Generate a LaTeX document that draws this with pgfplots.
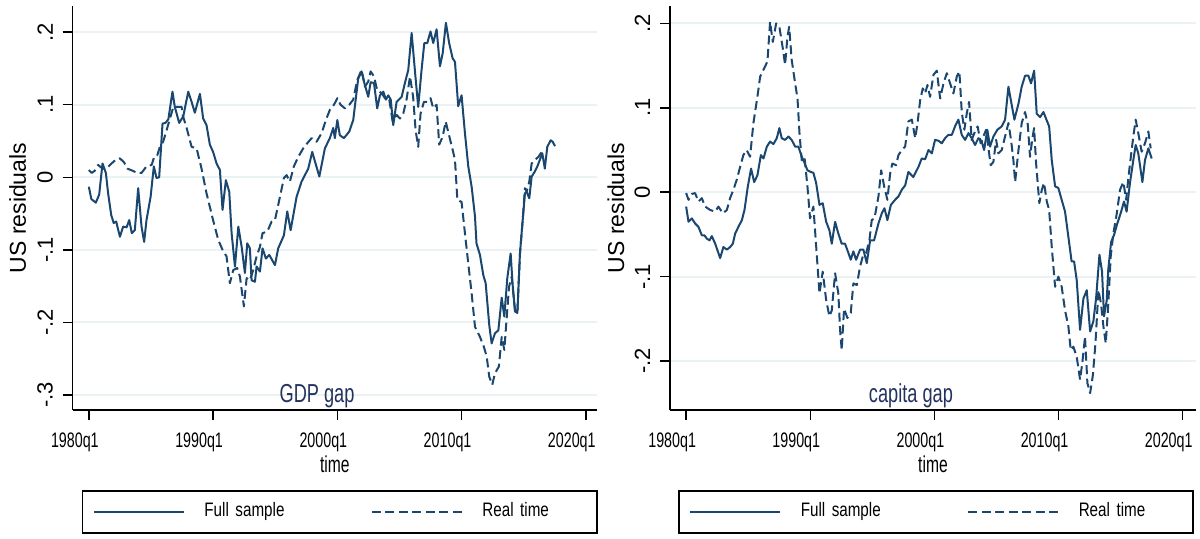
\documentclass[border=0pt]{standalone}
\usepackage{pgfplots}
\pgfplotsset{compat=1.18}
\usepackage{fontspec}
\setmainfont{Liberation Sans}
\newfontfamily\cond{Liberation Sans}[FakeStretch=0.78]
\newfontfamily\condt{Liberation Sans}[FakeStretch=0.68]
\newfontfamily\condh{Liberation Sans}[FakeStretch=0.70]
\definecolor{stnavy}{RGB}{26,71,111}
\definecolor{stgrid}{RGB}{234,242,243}
\definecolor{sttitle}{RGB}{35,50,95}

\pgfplotsset{
  panel/.style={
    scale only axis, width=262.15pt, height=202pt,
    axis x line*=bottom, axis y line*=left,
    axis line style={black, line width=0.75pt, -},
    xmin=1978.7, xmax=2020.9,
    xtick={1980,1990,2000,2010,2020},
    xticklabels={1980q1,1990q1,2000q1,2010q1,2020q1},
    tick align=outside, major tick length=5pt,
    tick style={black, line width=0.75pt},
    ymajorgrids, grid style={stgrid, line width=1pt},
    x tick label style={font=\condt\fontsize{10.5}{11}\selectfont, anchor=north, xshift=-7pt, yshift=-3pt},
    y tick label style={rotate=90, anchor=south, inner sep=0pt, yshift=4.7pt, font=\fontsize{11}{12}\selectfont},
    xlabel={time},
    xlabel style={font=\condt\fontsize{11.5}{12}\selectfont, yshift=5pt},
    ylabel={US residuals},
    ylabel style={at={(axis description cs:-0.105,0.5)}, anchor=center, font=\fontsize{11.5}{12}\selectfont},
    legend columns=2,
    legend image code/.code={\draw[#1] (0pt,0pt) -- (45pt,0pt);},
    legend style={at={(axis description cs:0,0)}, anchor=north west,
      xshift=4.5pt, yshift=-40pt, draw=black, line width=0.75pt,
      inner xsep=5.15pt, inner ysep=6pt,
      font=\cond\fontsize{9.75}{10}\selectfont,
      nodes={text width=52pt, inner sep=0pt, align=left, text height=7pt, text depth=2pt},
      /tikz/every odd column/.append style={column sep=9.85pt},
      /tikz/every even column/.append style={column sep=31.15pt}},
    full/.style={stnavy, line width=1pt, line join=round},
    real/.style={stnavy, line width=1pt, line join=round, dash pattern=on 4.5pt off 2.25pt},
  }
}

\begin{document}
\begin{tikzpicture}
\path (0,0) rectangle (600pt,269pt);

% ---------------- Left panel: GDP gap ----------------
\begin{axis}[panel, at={(36.35pt,64pt)}, anchor=south west,
  ymin=-0.3208, ymax=0.2361,
  ytick={-0.3,-0.2,-0.1,0,0.1,0.2},
  yticklabels={-.3,-.2,-.1,0,.1,.2}]
\addplot[full] coordinates {
(1980.0,-0.013)(1980.2,-0.030)(1980.56,-0.035)(1980.83,-0.024)(1981.1,0.019)
(1981.37,0.006)(1981.55,-0.022)(1981.8,-0.052)(1982.0,-0.063)(1982.2,-0.061)
(1982.5,-0.082)(1982.76,-0.068)(1983.04,-0.069)(1983.25,-0.059)(1983.46,-0.077)
(1983.7,-0.073)(1983.97,-0.015)(1984.24,-0.068)(1984.45,-0.089)(1984.64,-0.059)
(1984.97,-0.027)(1985.23,0.015)(1985.45,-0.001)(1985.66,0.0)(1985.93,0.074)
(1986.17,0.075)(1986.4,0.080)(1986.73,0.118)(1986.92,0.097)(1987.27,0.075)
(1987.6,0.084)(1988.0,0.118)(1988.27,0.104)(1988.53,0.089)(1988.94,0.115)
(1989.2,0.081)(1989.47,0.072)(1989.74,0.045)(1990.0,0.035)(1990.28,0.019)
(1990.55,0.010)(1990.76,-0.045)(1991.03,-0.004)(1991.3,-0.020)(1991.49,-0.077)
(1991.76,-0.123)(1992.03,-0.068)(1992.3,-0.096)(1992.56,-0.132)(1992.75,-0.091)
(1992.96,-0.098)(1993.1,-0.142)(1993.37,-0.144)(1993.5,-0.123)(1993.77,-0.130)
(1993.98,-0.098)(1994.25,-0.112)(1994.52,-0.107)(1994.98,-0.121)(1995.24,-0.098)
(1995.7,-0.080)(1995.97,-0.047)(1996.24,-0.073)(1996.72,-0.027)(1997.12,-0.006)
(1997.66,0.012)(1997.98,0.035)(1998.55,0.001)(1999.0,0.040)(1999.4,0.054)
(1999.67,0.068)(1999.8,0.054)(2000.0,0.079)(2000.2,0.058)(2000.53,0.054)
(2000.96,0.063)(2001.28,0.079)(2001.68,0.136)(2001.95,0.146)(2002.22,0.127)
(2002.49,0.111)(2002.68,0.131)(2002.95,0.130)(2003.21,0.095)(2003.43,0.113)
(2003.7,0.118)(2003.91,0.107)(2004.1,0.113)(2004.3,0.107)(2004.5,0.072)
(2004.77,0.104)(2005.18,0.111)(2005.44,0.130)(2005.71,0.148)(2005.98,0.199)
(2006.25,0.146)(2006.51,0.097)(2006.78,0.148)(2007.0,0.185)(2007.24,0.185)
(2007.5,0.201)(2007.72,0.185)(2007.99,0.204)(2008.26,0.153)(2008.48,0.171)
(2008.74,0.213)(2009.0,0.185)(2009.28,0.164)(2009.47,0.159)(2009.73,0.098)
(2010.0,0.113)(2010.27,0.061)(2010.54,0.015)(2010.81,-0.013)(2011.08,-0.054)
(2011.2,-0.091)(2011.48,-0.107)(2011.75,-0.135)(2011.94,-0.146)(2012.23,-0.204)
(2012.42,-0.229)(2012.69,-0.215)(2012.96,-0.211)(2013.23,-0.166)(2013.44,-0.192)
(2013.68,-0.139)(2013.95,-0.105)(2014.11,-0.148)(2014.3,-0.185)(2014.49,-0.187)
(2014.7,-0.105)(2014.92,-0.059)(2015.1,-0.022)(2015.24,-0.020)(2015.45,-0.029)
(2015.64,0.001)(2015.9,0.008)(2016.1,0.015)(2016.3,0.024)(2016.5,0.033)
(2016.7,0.012)(2016.9,0.042)(2017.17,0.051)(2017.33,0.049)(2017.52,0.043)
};
\addlegendentry{Full sample}
\addplot[real] coordinates {
(1980.0,0.010)(1980.22,0.006)(1980.48,0.009)(1980.75,0.017)(1981.1,0.012)
(1981.42,0.012)(1981.82,0.019)(1982.23,0.025)(1982.5,0.026)(1982.82,0.021)
(1983.1,0.012)(1983.52,0.009)(1983.9,0.006)(1984.24,0.006)(1984.64,0.015)
(1985.05,0.017)(1985.26,0.028)(1985.5,0.030)(1985.72,0.042)(1985.98,0.049)
(1986.26,0.065)(1986.58,0.084)(1986.8,0.097)(1987.2,0.097)(1987.47,0.097)
(1987.55,0.086)(1987.87,0.068)(1988.27,0.042)(1988.67,0.040)(1989.07,0.012)
(1989.47,-0.022)(1990.0,-0.059)(1990.41,-0.086)(1990.76,-0.100)(1991.08,-0.109)
(1991.35,-0.146)(1991.62,-0.128)(1991.94,-0.125)(1992.16,-0.137)(1992.48,-0.178)
(1992.7,-0.139)(1992.96,-0.142)(1993.23,-0.128)(1993.5,-0.109)(1993.77,-0.096)
(1993.98,-0.077)(1994.36,-0.075)(1994.71,-0.061)(1994.98,-0.059)(1995.38,-0.027)
(1995.7,-0.001)(1995.92,0.003)(1996.18,-0.006)(1996.5,0.015)(1996.85,0.028)
(1997.26,0.040)(1997.58,0.047)(1997.93,0.054)(1998.33,0.049)(1998.74,0.061)
(1999.08,0.079)(1999.4,0.093)(1999.73,0.100)(2000.0,0.109)(2000.26,0.100)
(2000.61,0.095)(2000.96,0.100)(2001.28,0.107)(2001.6,0.134)(2001.95,0.148)
(2002.22,0.125)(2002.49,0.132)(2002.68,0.146)(2002.95,0.139)(2003.21,0.120)
(2003.56,0.116)(2003.91,0.107)(2004.18,0.107)(2004.45,0.077)(2004.77,0.086)
(2005.04,0.081)(2005.31,0.088)(2005.57,0.107)(2005.85,0.139)(2006.1,0.111)
(2006.3,0.065)(2006.51,0.042)(2006.7,0.088)(2006.97,0.104)(2007.24,0.104)
(2007.5,0.109)(2007.72,0.095)(2007.99,0.100)(2008.2,0.045)(2008.48,0.056)
(2008.72,0.077)(2008.99,0.058)(2009.28,0.038)(2009.47,0.024)(2009.66,-0.031)
(2010.0,-0.034)(2010.27,-0.077)(2010.54,-0.119)(2010.81,-0.160)(2011.08,-0.206)
(2011.48,-0.220)(2011.8,-0.234)(2012.02,-0.247)(2012.23,-0.275)(2012.47,-0.286)
(2012.69,-0.270)(2013.0,-0.261)(2013.23,-0.220)(2013.44,-0.238)(2013.63,-0.194)
(2013.82,-0.151)(2014.03,-0.137)(2014.3,-0.183)(2014.49,-0.187)(2014.7,-0.105)
(2014.92,-0.059)(2015.1,-0.015)(2015.24,-0.020)(2015.45,-0.006)(2015.64,0.019)
(2015.9,0.024)(2016.18,0.028)(2016.45,0.035)
};
\addlegendentry{Real time}
\node[font=\condh\fontsize{13}{14}\selectfont, text=sttitle, anchor=base]
  at (axis description cs:0.466,0.018) {GDP gap};
\end{axis}

% ---------------- Right panel: capita gap ----------------
\begin{axis}[panel, at={(335pt,64pt)}, anchor=south west, width=263pt,
  xmax=2021.07,
  ymin=-0.258, ymax=0.2206,
  ytick={-0.2,-0.1,0,0.1,0.2},
  yticklabels={-.2,-.1,0,.1,.2},
  ylabel style={at={(axis description cs:-0.1027,0.5)}},
  legend style={xshift=-0.5pt}]
\addplot[full] coordinates {
(1980.0,-0.017)(1980.19,-0.035)(1980.46,-0.031)(1980.72,-0.037)(1980.99,-0.041)
(1981.26,-0.051)(1981.47,-0.051)(1981.67,-0.055)(1981.88,-0.057)(1982.07,-0.052)
(1982.34,-0.061)(1982.74,-0.078)(1983.0,-0.065)(1983.28,-0.068)(1983.54,-0.065)
(1983.76,-0.061)(1983.95,-0.049)(1984.21,-0.041)(1984.49,-0.033)(1984.7,-0.021)
(1984.97,0.007)(1985.23,0.028)(1985.48,0.012)(1985.74,0.020)(1986.02,0.044)
(1986.23,0.040)(1986.5,0.054)(1986.76,0.060)(1987.03,0.057)(1987.3,0.064)
(1987.51,0.076)(1987.7,0.064)(1987.97,0.062)(1988.24,0.066)(1988.5,0.062)
(1988.78,0.054)(1989.04,0.054)(1989.31,0.042)(1989.5,0.036)(1989.77,0.026)
(1990.04,0.024)(1990.25,0.023)(1990.47,0.011)(1990.74,-0.015)(1991.0,-0.013)
(1991.28,-0.035)(1991.54,-0.045)(1991.73,-0.061)(1992.0,-0.035)(1992.26,-0.049)
(1992.53,-0.061)(1992.8,-0.061)(1993.07,-0.072)(1993.26,-0.080)(1993.47,-0.070)
(1993.69,-0.080)(1994.01,-0.068)(1994.28,-0.068)(1994.55,-0.084)(1994.82,-0.057)
(1995.14,-0.057)(1995.49,-0.037)(1995.76,-0.025)(1995.97,-0.019)(1996.21,-0.033)
(1996.49,-0.015)(1996.83,-0.009)(1997.1,-0.005)(1997.37,0.003)(1997.64,0.008)
(1997.9,0.024)(1998.3,0.018)(1998.71,0.030)(1998.98,0.040)(1999.25,0.039)
(1999.52,0.050)(1999.79,0.046)(2000.05,0.062)(2000.32,0.061)(2000.59,0.058)
(2000.86,0.064)(2001.13,0.068)(2001.4,0.068)(2001.66,0.078)(2001.93,0.086)
(2002.2,0.068)(2002.47,0.062)(2002.74,0.070)(2003.0,0.064)(2003.27,0.056)
(2003.54,0.064)(2003.81,0.060)(2004.0,0.050)(2004.26,0.074)(2004.48,0.054)
(2004.75,0.066)(2005.07,0.074)(2005.42,0.078)(2005.69,0.086)(2005.96,0.125)
(2006.23,0.103)(2006.44,0.086)(2006.77,0.105)(2007.03,0.125)(2007.3,0.138)
(2007.57,0.138)(2007.78,0.129)(2008.03,0.144)(2008.24,0.093)(2008.51,0.089)
(2008.78,0.095)(2009.24,0.078)(2009.45,0.038)(2009.72,0.007)(2009.98,0.005)
(2010.25,-0.009)(2010.52,-0.023)(2010.79,-0.053)(2011.05,-0.082)(2011.25,-0.082)
(2011.46,-0.104)(2011.73,-0.163)(2012.0,-0.126)(2012.27,-0.116)(2012.54,-0.165)
(2012.8,-0.153)(2013.02,-0.126)(2013.29,-0.074)(2013.5,-0.094)(2013.66,-0.147)
(2013.88,-0.128)(2014.0,-0.092)(2014.23,-0.059)(2014.46,-0.051)(2014.73,-0.037)
(2015.0,-0.025)(2015.27,-0.011)(2015.48,-0.023)(2015.75,0.011)(2016.02,0.038)
(2016.21,0.056)(2016.42,0.046)(2016.75,0.012)(2016.96,0.038)(2017.23,0.052)
(2017.5,0.040)
};
\addlegendentry{Full sample}
\addplot[real] coordinates {
(1980.0,-0.001)(1980.19,-0.009)(1980.46,-0.002)(1980.72,-0.001)(1980.99,-0.011)
(1981.26,-0.007)(1981.53,-0.017)(1981.93,-0.021)(1982.34,-0.023)(1982.6,-0.017)
(1982.96,-0.025)(1983.28,-0.021)(1983.54,-0.007)(1983.81,0.003)(1984.08,0.015)
(1984.35,0.030)(1984.61,0.044)(1984.88,0.050)(1985.15,0.042)(1985.42,0.082)
(1985.74,0.113)(1985.96,0.137)(1986.36,0.149)(1986.55,0.155)(1986.76,0.202)
(1986.98,0.178)(1987.25,0.200)(1987.51,0.196)(1987.79,0.170)(1987.97,0.151)
(1988.16,0.184)(1988.3,0.196)(1988.5,0.157)(1988.78,0.129)(1988.97,0.111)
(1989.13,0.070)(1989.31,0.038)(1989.53,0.042)(1989.77,0.007)(1989.98,-0.031)
(1990.25,-0.017)(1990.53,-0.076)(1990.74,-0.120)(1991.0,-0.094)(1991.28,-0.128)
(1991.54,-0.147)(1991.73,-0.140)(1992.0,-0.096)(1992.26,-0.120)(1992.4,-0.163)
(1992.53,-0.187)(1992.72,-0.138)(1992.99,-0.149)(1993.26,-0.143)(1993.47,-0.108)
(1993.75,-0.110)(1994.01,-0.088)(1994.23,-0.076)(1994.5,-0.072)(1994.76,-0.057)
(1994.95,-0.033)(1995.17,-0.031)(1995.49,-0.005)(1995.71,0.026)(1995.95,0.007)
(1996.21,-0.009)(1996.43,0.022)(1996.61,0.034)(1996.91,0.032)(1997.1,0.044)
(1997.37,0.050)(1997.64,0.054)(1997.9,0.084)(1998.18,0.086)(1998.45,0.064)
(1998.64,0.082)(1998.85,0.109)(1999.06,0.123)(1999.25,0.117)(1999.44,0.127)
(1999.65,0.113)(1999.92,0.139)(2000.19,0.144)(2000.46,0.111)(2000.73,0.129)
(2001.0,0.141)(2001.26,0.129)(2001.53,0.117)(2001.8,0.137)(2002.01,0.143)
(2002.2,0.095)(2002.41,0.074)(2002.6,0.093)(2002.79,0.107)(2003.0,0.062)
(2003.27,0.072)(2003.48,0.078)(2003.72,0.058)(2003.94,0.066)(2004.16,0.074)
(2004.37,0.050)(2004.53,0.032)(2004.75,0.036)(2004.97,0.062)(2005.15,0.046)
(2005.42,0.050)(2005.69,0.066)(2005.96,0.082)(2006.17,0.062)(2006.36,0.038)
(2006.5,0.012)(2006.77,0.050)(2007.03,0.082)(2007.3,0.095)(2007.52,0.080)
(2007.7,0.042)(2007.89,0.064)(2008.03,0.076)(2008.19,0.034)(2008.45,-0.013)
(2008.65,0.003)(2008.83,0.011)(2009.05,-0.011)(2009.24,-0.021)(2009.45,-0.065)
(2009.72,-0.112)(2009.98,-0.100)(2010.25,-0.112)(2010.52,-0.140)(2010.79,-0.159)
(2010.98,-0.187)(2011.19,-0.183)(2011.46,-0.195)(2011.73,-0.222)(2011.92,-0.201)
(2012.13,-0.171)(2012.32,-0.226)(2012.54,-0.238)(2012.76,-0.217)(2012.97,-0.179)
(2013.21,-0.116)(2013.42,-0.132)(2013.61,-0.159)(2013.8,-0.179)(2013.99,-0.136)
(2014.2,-0.076)(2014.41,-0.049)(2014.69,-0.025)(2014.95,0.003)(2015.22,0.012)
(2015.44,-0.009)(2015.63,0.018)(2015.82,0.042)(2016.02,0.066)(2016.21,0.086)
(2016.42,0.070)(2016.69,0.048)(2016.96,0.058)(2017.23,0.072)(2017.42,0.052)
};
\addlegendentry{Real time}
\node[font=\condh\fontsize{13}{14}\selectfont, text=sttitle, anchor=base]
  at (axis description cs:0.458,0.018) {capita gap};
\end{axis}
\end{tikzpicture}
\end{document}
